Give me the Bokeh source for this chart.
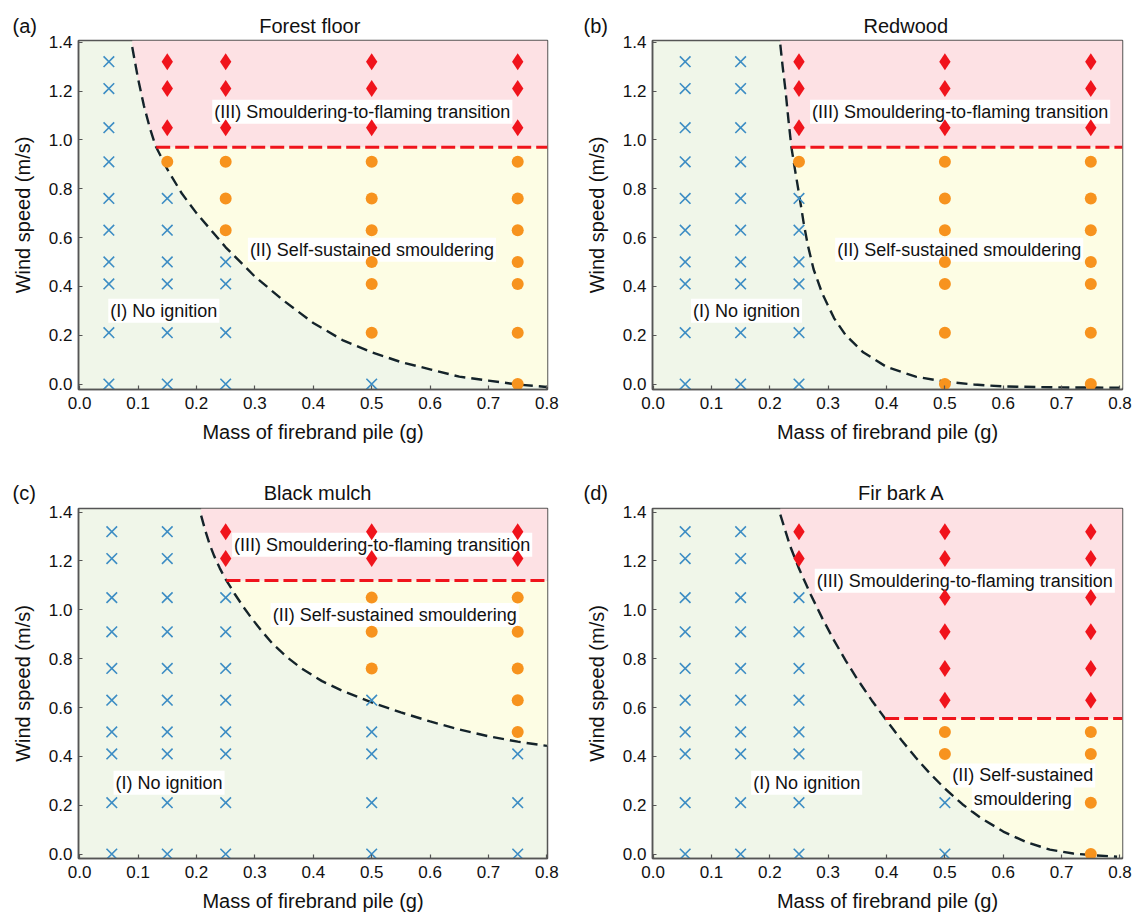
import numpy as np
from bokeh.plotting import figure
from bokeh.models import Range1d, FixedTicker, PrintfTickFormatter, Title
from bokeh.layouts import column, row
from bokeh.embed import file_html
from bokeh.resources import INLINE
from bokeh.core.properties import value

# ---------------- data ----------------
WIND = [0.0, 0.21, 0.41, 0.50, 0.63, 0.76, 0.91, 1.05, 1.21, 1.32]
XTICKS = [0.0, 0.1, 0.2, 0.3, 0.4, 0.5, 0.6, 0.7, 0.8]
YTICKS = [0.0, 0.2, 0.4, 0.6, 0.8, 1.0, 1.2, 1.4]
X_LABEL = "Mass of firebrand pile (g)"
Y_LABEL = "Wind speed (m/s)"
# N = no ignition, S = self-sustained smouldering, F = smouldering-to-flaming transition

# (a) Forest floor
a_mass = [0.05, 0.15, 0.25, 0.50, 0.75]
a_result = ["NNNNNNNNNN", "NNNNNNSFFF", "NNNNSSSFFF", "NSSSSSSFFF", "SSSSSSSFFF"]
a_curve_x = [0.09, 0.10, 0.11, 0.12, 0.13, 0.15, 0.175, 0.20, 0.25, 0.30, 0.35, 0.40, 0.45, 0.50, 0.55, 0.60, 0.65, 0.70, 0.75, 0.80]
a_curve_y = [1.38, 1.25, 1.14, 1.05, 0.975, 0.88, 0.78, 0.70, 0.56, 0.44, 0.34, 0.25, 0.18, 0.13, 0.09, 0.06, 0.03, 0.014, -0.002, -0.012]
a_flame = 0.97

# (b) Redwood
b_mass = [0.055, 0.15, 0.25, 0.50, 0.75]
b_result = ["NNNNNNNNNN", "NNNNNNNNNN", "NNNNNNSFFF", "SSSSSSSFFF", "SSSSSSSFFF"]
b_curve_x = [0.218, 0.222, 0.227, 0.232, 0.237, 0.243, 0.25, 0.258, 0.265, 0.275, 0.29, 0.31, 0.33, 0.36, 0.40, 0.45, 0.50, 0.55, 0.60, 0.70, 0.80]
b_curve_y = [1.39, 1.30, 1.20, 1.08, 0.97, 0.88, 0.78, 0.66, 0.57, 0.47, 0.37, 0.27, 0.20, 0.13, 0.07, 0.03, 0.01, -0.002, -0.01, -0.014, -0.015]
b_flame = 0.97

# (c) Black mulch
c_mass = [0.055, 0.15, 0.25, 0.50, 0.75]
c_result = ["NNNNNNNNNN", "NNNNNNNNNN", "NNNNNNNNFF", "NNNNNSSSFF", "NNNSSSSSFF"]
c_curve_x = [0.208, 0.215, 0.222, 0.23, 0.24, 0.25, 0.265, 0.28, 0.293, 0.31, 0.33, 0.354, 0.38, 0.415, 0.45, 0.50, 0.55, 0.60, 0.65, 0.70, 0.75, 0.80]
c_curve_y = [1.386, 1.325, 1.272, 1.222, 1.17, 1.125, 1.067, 1.013, 0.97, 0.918, 0.862, 0.808, 0.76, 0.708, 0.668, 0.621, 0.58, 0.543, 0.51, 0.482, 0.46, 0.443]
c_flame = 1.12

# (d) Fir bark A
d_mass = [0.055, 0.15, 0.25, 0.50, 0.75]
d_result = ["NNNNNNNNNN", "NNNNNNNNNN", "NNNNNNNNFF", "NNSSFFFFFF", "SSSSFFFFFF"]
d_curve_x = [0.218, 0.235, 0.25, 0.27, 0.29, 0.31, 0.33, 0.35, 0.375, 0.40, 0.425, 0.45, 0.475, 0.50, 0.53, 0.56, 0.60, 0.64, 0.68, 0.72, 0.76, 0.795]
d_curve_y = [1.39, 1.26, 1.169, 1.063, 0.965, 0.875, 0.792, 0.716, 0.628, 0.547, 0.468, 0.395, 0.328, 0.268, 0.204, 0.15, 0.092, 0.048, 0.018, 0.002, -0.006, -0.011]
d_flame = 0.555

TXT_III = "(III) Smouldering-to-flaming transition"
TXT_II = "(II) Self-sustained smouldering"
TXT_I = "(I) No ignition"

# ---------------- styles / layout ----------------
FONT = "Liberation Sans"
GREEN = "#f0f6e9"
YELLOW = "#fdfde4"
PINK = "#fde1e4"
BLUE = "#3d8dc4"
ORANGE = "#f7931e"
RED = "#f0141c"
GRAYLINE = "#555555"
NBSP = "\u00a0"


def make_panel(letter, title, mass, result, cx, cy, flame, notes, g):
    xr0, xr1 = g["xr"]
    yr0, yr1 = g["yr"]
    p = figure(frame_width=g["fw"], frame_height=g["fh"],
               min_border_left=g["l"], min_border_right=g["r"],
               min_border_top=g["t"], min_border_bottom=g["b"],
               x_range=Range1d(xr0, xr1), y_range=Range1d(yr0, yr1),
               output_backend="svg", toolbar_location=None, tools="")
    p.background_fill_color = GREEN
    p.border_fill_color = "white"
    p.outline_line_color = GRAYLINE
    p.outline_line_width = 1.5
    p.xgrid.visible = False
    p.ygrid.visible = False

    # "(a)" at the far left and the panel name centred over the frame, on one line
    head = "(" + letter + ")" + NBSP * g["gap"] + title
    t = Title(text=head, align="left", offset=g["lx"] - g["l"], text_font=FONT,
              text_font_size="20px", text_font_style="normal",
              text_color="#111111", standoff=g["ts"])
    p.add_layout(t, "above")

    for ax, ticks, lab in ((p.xaxis[0], XTICKS, X_LABEL), (p.yaxis[0], YTICKS, Y_LABEL)):
        ax.ticker = FixedTicker(ticks=ticks)
        ax.formatter = PrintfTickFormatter(format="%.1f")
        ax.axis_label = lab
        ax.axis_label_text_font = FONT
        ax.axis_label_text_font_size = "20px"
        ax.axis_label_text_font_style = "normal"
        ax.axis_label_text_color = "#111111"
        ax.major_label_text_font = FONT
        ax.major_label_text_font_size = "17px"
        ax.major_label_text_color = "#111111"
        ax.axis_line_color = GRAYLINE
        ax.axis_line_width = 1.5
        ax.major_tick_line_color = GRAYLINE
        ax.major_tick_line_width = 1.2
        ax.major_tick_in = 4
        ax.major_tick_out = 0
        ax.minor_tick_in = 0
        ax.minor_tick_out = 0
    p.xaxis.major_label_standoff = 7
    p.xaxis.axis_label_standoff = 9
    p.yaxis.major_label_standoff = 6
    p.yaxis.axis_label_standoff = 12

    # regions
    cxa = np.array(cx, dtype=float)
    cya = np.array(cy, dtype=float)
    x_int = float(np.interp(flame, cya[::-1], cxa[::-1]))
    low = cya < flame
    high = cya >= flame
    xs2 = [x_int] + list(cxa[low]) + [xr1, xr1]
    ys2 = [flame] + list(cya[low]) + [cya[-1], flame]
    p.patch(xs2, ys2, fill_color=YELLOW, line_color=None)
    xs3 = [cxa[0]] + list(cxa[high]) + [x_int, xr1, xr1]
    ys3 = [yr1] + list(cya[high]) + [flame, flame, yr1]
    p.patch(xs3, ys3, fill_color=PINK, line_color=None)

    # boundaries
    p.line(cx, cy, line_color="#14232a", line_width=2.4, line_dash="11 6")
    p.line([x_int, xr1], [flame, flame], line_color=RED, line_width=3, line_dash="14 5")

    # annotations (text with white background)
    nx = [n[0] for n in notes]
    ny = [n[1] for n in notes]
    nt = [n[2] for n in notes]
    p.text(x=nx, y=ny, text=nt, text_font=value(FONT), text_font_size="18px",
           text_color="#111111", text_align="left", text_baseline="middle",
           background_fill_color="white", background_fill_alpha=1.0, padding=2)

    # markers
    pts = {"N": ([], []), "S": ([], []), "F": ([], [])}
    for m, res in zip(mass, result):
        for w, code in zip(WIND, res):
            pts[code][0].append(m)
            pts[code][1].append(w)
    p.scatter(pts["N"][0], pts["N"][1], marker="x", size=15, line_color=BLUE, line_width=1.6)
    p.scatter(pts["S"][0], pts["S"][1], marker="circle", size=12, fill_color=ORANGE, line_color=None)
    p.scatter(pts["F"][0], pts["F"][1], marker="diamond", size=17, fill_color=RED, line_color=None)
    return p


G_TOP_L = dict(fw=469, fh=349, l=78, r=28, t=40, b=71, xr=(-0.002, 0.801), yr=(-0.0225, 1.407), ts=8, lx=12, gap=40)
G_TOP_R = dict(fw=470, fh=349, l=77, r=15, t=40, b=71, xr=(-0.001, 0.8043), yr=(-0.0225, 1.407), ts=8, lx=8, gap=46)
G_BOT_L = dict(fw=469, fh=350, l=78, r=28, t=48, b=62, xr=(-0.002, 0.801), yr=(-0.0184, 1.415), ts=9, lx=12, gap=41)
G_BOT_R = dict(fw=470, fh=350, l=77, r=15, t=48, b=62, xr=(-0.001, 0.8043), yr=(-0.0184, 1.415), ts=9, lx=8, gap=45)

pa = make_panel("a", "Forest floor", a_mass, a_result, a_curve_x, a_curve_y, a_flame,
                [(0.227, 1.115, TXT_III), (0.288, 0.55, TXT_II), (0.049, 0.30, TXT_I)], G_TOP_L)
pb = make_panel("b", "Redwood", b_mass, b_result, b_curve_x, b_curve_y, b_flame,
                [(0.269, 1.115, TXT_III), (0.312, 0.55, TXT_II), (0.065, 0.30, TXT_I)], G_TOP_R)
pc = make_panel("c", "Black mulch", c_mass, c_result, c_curve_x, c_curve_y, c_flame,
                [(0.261, 1.267, TXT_III), (0.327, 0.979, TXT_II), (0.058, 0.292, TXT_I)], G_BOT_L)
pd = make_panel("d", "Fir bark A", d_mass, d_result, d_curve_x, d_curve_y, d_flame,
                [(0.277, 1.119, TXT_III), (0.509, 0.322, "(II) Self-sustained"),
                 (0.546, 0.227, "smouldering"), (0.168, 0.292, TXT_I)], G_BOT_R)

layout = column(row(pa, pb), row(pc, pd))
open("out.html", "w").write(file_html(layout, INLINE))
